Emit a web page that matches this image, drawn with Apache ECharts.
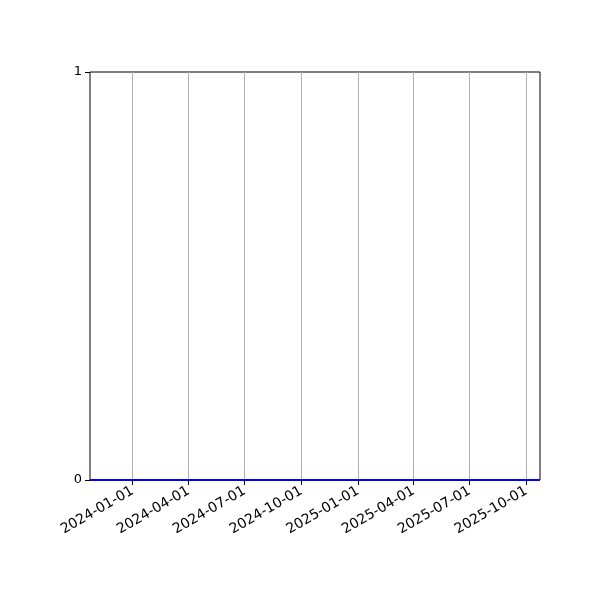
<!DOCTYPE html>
<html>
<head>
<meta charset="utf-8">
<script src="https://cdn.jsdelivr.net/npm/echarts@6/dist/echarts.min.js"></script>
<style>
html, body { margin: 0; padding: 0; background: #fff; }
#main { width: 600px; height: 600px; }
</style>
</head>
<body>
<div id="main"></div>
<script>
// series: flat line at zero across the whole range
var dates = ['2023-10-24', '2025-10-23'];
var values = [0, 0];
// x ticks (quarter starts)
var tickDates = ['2024-01-01', '2024-04-01', '2024-07-01', '2024-10-01',
                 '2025-01-01', '2025-04-01', '2025-07-01', '2025-10-01'];
var xMin = '2023-10-24';
var xMax = '2025-10-23';

function ts(s) { return +new Date(s + 'T00:00:00Z'); }
function fmt(v) {
    var d = new Date(v);
    var m = d.getUTCMonth() + 1, day = d.getUTCDate();
    return d.getUTCFullYear() + '-' + (m < 10 ? '0' + m : m) + '-' + (day < 10 ? '0' + day : day);
}

var tickTs = tickDates.map(ts);
var lineData = dates.map(function (d, i) { return [ts(d), values[i]]; });

var myChart = echarts.init(document.getElementById('main'));
var option = {
    animation: false,
    textStyle: { fontFamily: 'DejaVu Sans' },
    grid: {
        left: 90, right: 60, top: 72, bottom: 120,
        show: true, borderColor: '#000', borderWidth: 1, backgroundColor: 'transparent'
    },
    xAxis: {
        type: 'value',
        min: ts(xMin),
        max: ts(xMax),
        axisLine: { show: false },
        splitLine: { show: false },
        axisTick: {
            show: true, inside: false, length: 5,
            lineStyle: { color: '#000', width: 1 },
            customValues: tickTs
        },
        axisLabel: {
            customValues: tickTs,
            rotate: 30,
            margin: 10,
            fontSize: 14,
            color: '#000',
            fontFamily: 'DejaVu Sans',
            formatter: function (v) { return fmt(v); }
        }
    },
    yAxis: {
        type: 'value',
        min: 0, max: 1, interval: 1,
        axisLine: { show: false },
        splitLine: { show: false },
        axisTick: { show: true, inside: false, length: 5, lineStyle: { color: '#000', width: 1 } },
        axisLabel: { fontSize: 13, color: '#000', margin: 8, fontFamily: 'DejaVu Sans' }
    },
    series: [
        {
            // vertical grid lines at the tick dates
            type: 'line',
            data: [],
            silent: true,
            markLine: {
                silent: true,
                symbol: 'none',
                label: { show: false },
                lineStyle: { color: '#b0b0b0', width: 1, type: 'solid' },
                data: tickTs.map(function (t) { return { xAxis: t }; })
            }
        },
        {
            type: 'line',
            data: lineData,
            showSymbol: false,
            z: 10,
            lineStyle: { color: '#0000ff', width: 2 },
            itemStyle: { color: '#0000ff' }
        }
    ]
};
myChart.setOption(option);
</script>
</body>
</html>
